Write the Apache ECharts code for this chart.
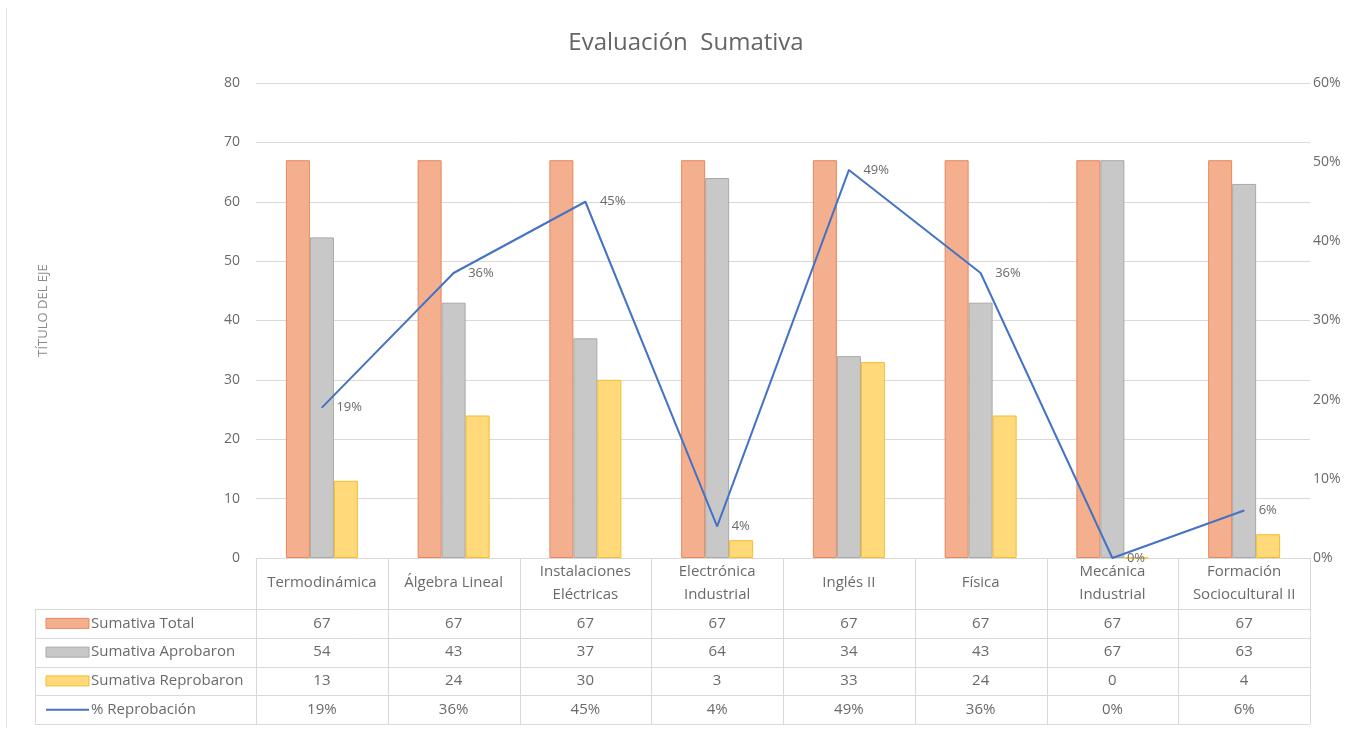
<!DOCTYPE html>
<html>
<head>
<meta charset="utf-8">
<script src="https://cdn.jsdelivr.net/npm/echarts@6/dist/echarts.min.js"></script>
<style>
  html, body { margin: 0; padding: 0; background: #fff; }
  #chart { width: 1372px; height: 730px; }
</style>
</head>
<body>
<div id="chart"></div>
<script>
// datos
var materias = ['Termodinámica', 'Álgebra Lineal', 'Instalaciones\nEléctricas', 'Electrónica\nIndustrial',
                'Inglés II', 'Física', 'Mecánica\nIndustrial', 'Formación\nSociocultural II'];
var sumativaTotal = [67, 67, 67, 67, 67, 67, 67, 67];
var sumativaAprobaron = [54, 43, 37, 64, 34, 43, 67, 63];
var sumativaReprobaron = [13, 24, 30, 3, 33, 24, 0, 4];
var pctReprobacion = [19, 36, 45, 4, 49, 36, 0, 6];

var nombres = ['Sumativa Total', 'Sumativa Aprobaron', 'Sumativa Reprobaron', '% Reprobación'];
var colores = ['#F4B08E', '#C8C8C8', '#FFD97A', '#4472C4'];
var bordes = ['#E8875C', '#A8A8A8', '#F5BD2A', '#4472C4'];

var FONT = 'Open Sans';
var GRIS = '#6a6a6a';
var LINEA = '#d9d9d9';

var myChart = echarts.init(document.getElementById('chart'));

function barra(i, data) {
    return {
        name: nombres[i],
        type: 'bar',
        yAxisIndex: 0,
        barWidth: 24,
        barGap: '0%',
        itemStyle: { color: colores[i], borderColor: bordes[i], borderWidth: 1 },
        data: data
    };
}

var option = {
    backgroundColor: '#fff',
    animation: false,
    title: {
        text: 'Evaluación  Sumativa',
        left: 'center',
        top: 26,
        textStyle: { fontFamily: FONT, fontSize: 24, fontWeight: 'normal', color: '#656565' }
    },
    grid: { left: 256, right: 62, top: 83, bottom: 172 },
    xAxis: {
        type: 'category',
        data: materias,
        axisLine: { lineStyle: { color: LINEA } },
        axisTick: { show: false },
        axisLabel: {
            interval: 0, margin: 25, lineHeight: 23, verticalAlign: 'middle',
            fontFamily: FONT, fontSize: 15, color: GRIS
        }
    },
    yAxis: [{
        type: 'value',
        min: 0, max: 80, interval: 10,
        name: 'TÍTULO DEL EJE',
        nameLocation: 'middle',
        nameGap: 206,
        nameTextStyle: { fontFamily: FONT, fontSize: 13, color: '#8a8a8a', padding: [0, 0, 0, 20] },
        axisLabel: { margin: 16, fontFamily: FONT, fontSize: 14, color: GRIS },
        splitLine: { lineStyle: { color: LINEA } }
    }, {
        type: 'value',
        min: 0, max: 60, interval: 10,
        axisLabel: { margin: 3, formatter: '{value}%', fontFamily: FONT, fontSize: 14, color: GRIS },
        splitLine: { show: false }
    }],
    series: [
        barra(0, sumativaTotal),
        barra(1, sumativaAprobaron),
        barra(2, sumativaReprobaron),
        {
            name: nombres[3],
            type: 'line',
            yAxisIndex: 1,
            symbol: 'circle',
            symbolSize: 1,
            lineStyle: { color: colores[3], width: 2 },
            itemStyle: { color: colores[3] },
            label: {
                show: true, position: 'right', distance: 14,
                formatter: '{c}%', fontFamily: FONT, fontSize: 13, color: GRIS
            },
            data: pctReprobacion
        }
    ]
};

myChart.setOption(option);

// tabla de datos debajo del eje
function tabla() {
    var c0 = myChart.convertToPixel({ xAxisIndex: 0 }, 0);
    var c1 = myChart.convertToPixel({ xAxisIndex: 0 }, 1);
    var banda = c1 - c0;
    var x0 = c0 - banda / 2;
    var x1 = x0 + banda * materias.length;
    var yEje = myChart.convertToPixel({ yAxisIndex: 0 }, 0);
    var top = 609, alto = 28.75, izq = 35;
    var filas = [sumativaTotal, sumativaAprobaron, sumativaReprobaron, pctReprobacion];
    var g = [];
    var ls = { stroke: LINEA, lineWidth: 1 };

    // borde del area del grafico
    g.push({ type: 'line', shape: { x1: 6.5, y1: 8, x2: 6.5, y2: 728 }, style: { stroke: '#e4e4e4', lineWidth: 1 }, silent: true });

    for (var r = 0; r <= filas.length; r++) {
        var y = Math.round(top + r * alto) + 0.5;
        g.push({ type: 'line', shape: { x1: izq, y1: y, x2: x1, y2: y }, style: ls, silent: true });
    }
    g.push({ type: 'line', shape: { x1: izq + 0.5, y1: top, x2: izq + 0.5, y2: top + alto * 4 }, style: ls, silent: true });
    for (var k = 0; k <= materias.length; k++) {
        var x = Math.round(x0 + k * banda) + 0.5;
        g.push({ type: 'line', shape: { x1: x, y1: yEje, x2: x, y2: top + alto * 4 }, style: ls, silent: true });
    }
    filas.forEach(function (fila, r) {
        var yc = top + r * alto + alto / 2;
        if (r < 3) {
            g.push({ type: 'rect', shape: { x: 46, y: yc - 5, width: 43, height: 10 },
                     style: { fill: colores[r], stroke: bordes[r], lineWidth: 1 }, silent: true });
        } else {
            g.push({ type: 'line', shape: { x1: 46, y1: yc, x2: 89, y2: yc },
                     style: { stroke: colores[3], lineWidth: 2 }, silent: true });
        }
        g.push({ type: 'text', x: 91, y: yc,
                 style: { text: nombres[r], fontFamily: FONT, fontSize: 15, fill: GRIS, verticalAlign: 'middle' }, silent: true });
        fila.forEach(function (v, i) {
            g.push({ type: 'text', x: x0 + banda * (i + 0.5), y: yc,
                     style: { text: r === 3 ? v + '%' : String(v), fontFamily: FONT, fontSize: 15, fill: GRIS,
                              align: 'center', verticalAlign: 'middle' }, silent: true });
        });
    });
    myChart.setOption({ graphic: g });
}
tabla();
</script>
</body>
</html>
